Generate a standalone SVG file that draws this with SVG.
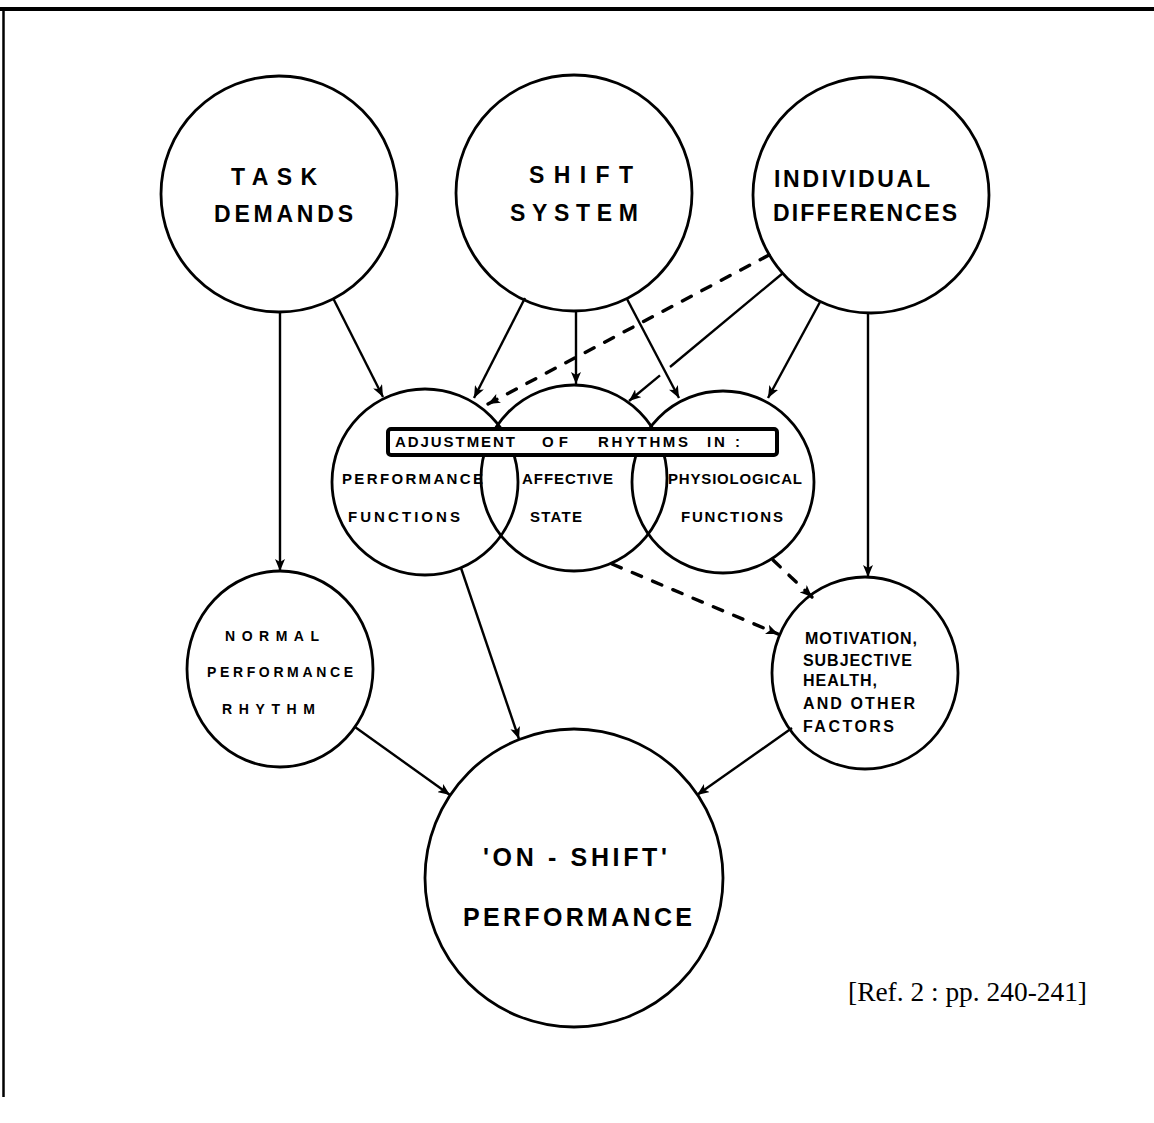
<svg xmlns="http://www.w3.org/2000/svg" width="1154" height="1123" viewBox="0 0 1154 1123">
<style>
  .node { fill: none; stroke: #000; stroke-width: 2.8; }
  .lbl { font-family: "Liberation Sans", Arial, sans-serif; font-weight: bold; fill: #000; }
  .big { font-size: 23px; }
  .mid { font-size: 15px; }
  .sm { font-size: 14px; }
  .mot { font-size: 16px; }
  .xl { font-size: 25px; }
  .arr { fill: none; stroke: #000; stroke-width: 2.4; marker-end: url(#ah); }
  .dash { fill: none; stroke: #000; stroke-width: 3.4; stroke-dasharray: 10 12; stroke-linecap: round; marker-end: url(#ah); }
  .seg { fill: none; stroke: #000; stroke-width: 2.4; }
  .ref { font-family: "Liberation Serif", "Times New Roman", serif; font-size: 27px; fill: #000; }
</style>
<defs>
  <marker id="ah" viewBox="0 0 12 10" refX="12" refY="5" markerWidth="12" markerHeight="10" markerUnits="userSpaceOnUse" orient="auto">
    <path d="M0,0 L12,5 L0,10 L3,5 z" fill="#000"/>
  </marker>
</defs>
<rect x="0" y="0" width="1154" height="1123" fill="#fff"/>
<g id="frame">
  <line x1="0" y1="9" x2="1154" y2="9" stroke="#000" stroke-width="4"/>
  <line x1="3.5" y1="9" x2="3.5" y2="1097" stroke="#000" stroke-width="2.5"/>
</g>

<g id="connectors">
  <line class="arr" x1="280" y1="312" x2="280" y2="571"/>
  <line class="arr" x1="333" y1="298" x2="383" y2="397"/>
  <line class="arr" x1="525" y1="298" x2="474" y2="398"/>
  <line class="arr" x1="576" y1="311" x2="576" y2="384"/>
  <line class="arr" x1="627" y1="299" x2="679" y2="398"/>
  <line class="dash" x1="769" y1="255" x2="488" y2="404"/>
  <line class="seg" x1="783" y1="273" x2="670" y2="367"/>
  <line class="arr" x1="660" y1="375.4" x2="629" y2="401"/>
  <line class="arr" x1="820" y1="302" x2="768" y2="398"/>
  <line class="arr" x1="868" y1="313" x2="868" y2="577"/>
  <line class="dash" x1="612" y1="564" x2="778" y2="634"/>
  <line class="dash" x1="773" y1="560" x2="812" y2="597"/>
  <line class="arr" x1="461" y1="568" x2="519" y2="739"/>
  <line class="arr" x1="355" y1="727" x2="450" y2="795"/>
  <line class="arr" x1="792" y1="728" x2="697" y2="795"/>
</g>

<g id="task-demands">
  <circle class="node" cx="279" cy="194" r="118"/>
  <text class="lbl big" x="231" y="185" textLength="86" lengthAdjust="spacing">TASK</text>
  <text class="lbl big" x="214" y="222" textLength="139" lengthAdjust="spacing">DEMANDS</text>
</g>
<g id="shift-system">
  <circle class="node" cx="574" cy="193" r="118"/>
  <text class="lbl big" x="529" y="183" textLength="104" lengthAdjust="spacing">SHIFT</text>
  <text class="lbl big" x="510" y="221" textLength="128" lengthAdjust="spacing">SYSTEM</text>
</g>
<g id="individual-differences">
  <circle class="node" cx="871" cy="195" r="118"/>
  <text class="lbl big" x="774" y="187" textLength="156" lengthAdjust="spacing">INDIVIDUAL</text>
  <text class="lbl big" x="773" y="221" textLength="184" lengthAdjust="spacing">DIFFERENCES</text>
</g>

<g id="performance-functions">
  <circle class="node" cx="425" cy="482" r="93"/>
  <text class="lbl mid" x="342" y="484" textLength="141" lengthAdjust="spacing">PERFORMANCE</text>
  <text class="lbl mid" x="348" y="522" textLength="112" lengthAdjust="spacing">FUNCTIONS</text>
</g>
<g id="affective-state">
  <circle class="node" cx="574" cy="478" r="93"/>
  <text class="lbl mid" x="522" y="484" textLength="91" lengthAdjust="spacing">AFFECTIVE</text>
  <text class="lbl mid" x="530" y="522" textLength="52" lengthAdjust="spacing">STATE</text>
</g>
<g id="physiological-functions">
  <circle class="node" cx="723" cy="482" r="91"/>
  <text class="lbl mid" x="668" y="484" textLength="134" lengthAdjust="spacing">PHYSIOLOGICAL</text>
  <text class="lbl mid" x="681" y="522" textLength="102" lengthAdjust="spacing">FUNCTIONS</text>
</g>
<g id="adjustment-box">
  <rect x="388" y="429" width="389" height="26" rx="3" fill="#fff" stroke="#000" stroke-width="4"/>
  <text class="lbl mid" y="447"><tspan x="395" textLength="120" lengthAdjust="spacing">ADJUSTMENT</tspan> <tspan x="542" textLength="26" lengthAdjust="spacing">OF</tspan> <tspan x="598" textLength="90" lengthAdjust="spacing">RHYTHMS</tspan> <tspan x="707" textLength="33" lengthAdjust="spacing">IN :</tspan></text>
</g>

<g id="normal-performance-rhythm">
  <ellipse class="node" cx="280" cy="669" rx="93" ry="98"/>
  <text class="lbl sm" x="225" y="641" textLength="94" lengthAdjust="spacing">NORMAL</text>
  <text class="lbl sm" x="207" y="677" textLength="146" lengthAdjust="spacing">PERFORMANCE</text>
  <text class="lbl sm" x="222" y="714" textLength="93" lengthAdjust="spacing">RHYTHM</text>
</g>
<g id="motivation">
  <ellipse class="node" cx="865" cy="673" rx="93" ry="96"/>
  <text class="lbl mot" x="805" y="644" textLength="112" lengthAdjust="spacing">MOTIVATION,</text>
  <text class="lbl mot" x="803" y="666" textLength="109" lengthAdjust="spacing">SUBJECTIVE</text>
  <text class="lbl mot" x="803" y="686" textLength="74" lengthAdjust="spacing">HEALTH,</text>
  <text class="lbl mot" x="803" y="709" textLength="112" lengthAdjust="spacing">AND OTHER</text>
  <text class="lbl mot" x="803" y="732" textLength="91" lengthAdjust="spacing">FACTORS</text>
</g>
<g id="on-shift-performance">
  <circle class="node" cx="574" cy="878" r="149"/>
  <text class="lbl xl" x="483" y="866" textLength="184" lengthAdjust="spacing">'ON - SHIFT'</text>
  <text class="lbl xl" x="463" y="926" textLength="229" lengthAdjust="spacing">PERFORMANCE</text>
</g>

<text class="ref" x="848" y="1001" textLength="239" lengthAdjust="spacingAndGlyphs">[Ref. 2 : pp. 240-241]</text>
</svg>
